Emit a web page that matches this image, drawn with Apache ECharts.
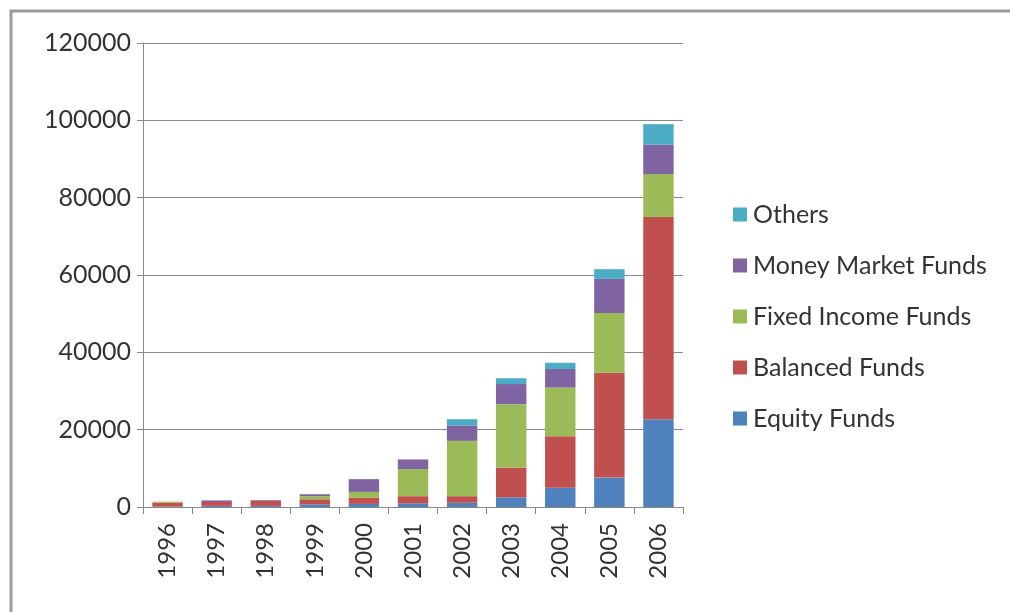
<!DOCTYPE html>
<html>
<head>
<meta charset="utf-8">
<script src="https://cdn.jsdelivr.net/npm/echarts@6/dist/echarts.min.js"></script>
<style>
html,body{margin:0;padding:0;background:#fff;}
#chart{width:1010px;height:612px;}
</style>
</head>
<body>
<div id="chart"></div>
<script>
var years = ['1996','1997','1998','1999','2000','2001','2002','2003','2004','2005','2006'];
var equityFunds   = [100, 300, 300, 700, 800, 950, 1100, 2500, 5000, 7600, 22700];
var balancedFunds = [1000, 1000, 1400, 1300, 1600, 1850, 1700, 7700, 13300, 27100, 52300];
var fixedIncome   = [300, 0, 0, 800, 1500, 7000, 14300, 16400, 12600, 15500, 11100];
var moneyMarket   = [0, 400, 100, 500, 3300, 2500, 4000, 5200, 4800, 8800, 7600];
var others        = [0, 0, 0, 0, 0, 0, 1600, 1500, 1600, 2500, 5300];
var yTicks = [0, 20000, 40000, 60000, 80000, 100000, 120000];

var font = 'Lato, "Liberation Sans", sans-serif';
var chart = echarts.init(document.getElementById('chart'));
function s(name, data, color){
  return {name:name, type:'bar', stack:'total', data:data, barCategoryGap:'38%',
          itemStyle:{color:color}, emphasis:{disabled:true}};
}
chart.setOption({
  animation:false,
  backgroundColor:'#fff',
  graphic:[{type:'polyline', shape:{points:[[11,612],[11,11],[1010,11]]},
            style:{stroke:'#9a9a9a', lineWidth:3, fill:null}}],
  grid:{left:143, right:327, top:43, bottom:105, containLabel:false},
  legend:{
    data:['Others','Money Market Funds','Fixed Income Funds','Balanced Funds','Equity Funds'],
    orient:'vertical', left:728, top:197, itemWidth:14, itemHeight:14, itemGap:26,
    icon:'rect', textStyle:{fontFamily:font, fontSize:25, lineHeight:22, color:'#333', padding:[0,0,0,1]}
  },
  xAxis:{type:'category', data:years,
    axisLine:{lineStyle:{color:'#888', width:1}},
    axisTick:{show:true, length:7, lineStyle:{color:'#888'}},
    axisLabel:{rotate:90, fontFamily:font, fontSize:24, color:'#333', margin:16}
  },
  yAxis:{type:'value', min:0, max:120000, interval:20000,
    axisLine:{show:true, lineStyle:{color:'#888', width:1}},
    axisTick:{show:true, length:6, lineStyle:{color:'#888'}},
    splitLine:{lineStyle:{color:'#8a8a8a', width:1}},
    axisLabel:{fontFamily:font, fontSize:25, color:'#333', margin:12,
      formatter:function(v){ return yTicks.indexOf(v) >= 0 ? String(v) : ''; }}
  },
  series:[
    s('Equity Funds', equityFunds, '#4F81BD'),
    s('Balanced Funds', balancedFunds, '#C0504D'),
    s('Fixed Income Funds', fixedIncome, '#9BBB59'),
    s('Money Market Funds', moneyMarket, '#8064A2'),
    s('Others', others, '#4BACC6')
  ]
});
</script>
</body>
</html>
